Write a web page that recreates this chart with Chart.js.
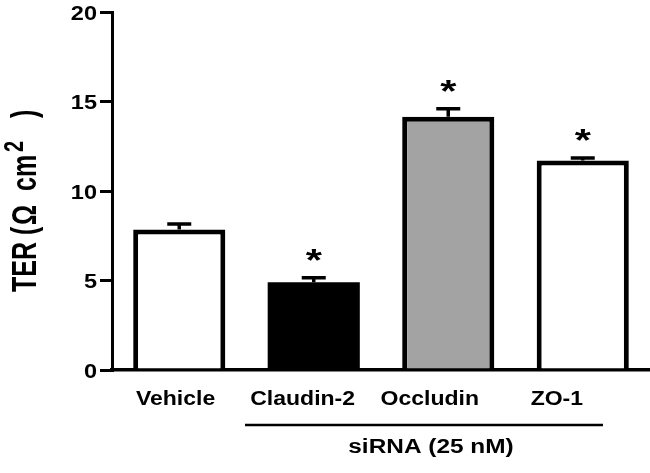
<!DOCTYPE html>
<html><head><meta charset="utf-8">
<script src="https://cdn.jsdelivr.net/npm/chart.js@4.4.1/dist/chart.umd.min.js"></script>
<style>html,body{margin:0;padding:0;background:#fff;} canvas{display:block;}</style>
</head><body>
<canvas id="c" width="650" height="473" style="width:650px;height:473px"></canvas>
<script>
// ---- data ----
const categories = ['Vehicle', 'Claudin-2', 'Occludin', 'ZO-1'];
const terMean = [7.85, 4.9, 14.15, 11.7];
const terSem = [0.3, 0.25, 0.45, 0.15];
const significant = [false, true, true, true];
const yTicks = [0, 5, 10, 15, 20];
const barColors = ['#ffffff', '#000000', '#a3a3a3', '#ffffff'];
const groupLabel = 'siRNA (25 nM)';
const yTitleParts = ['TER', '(', 'Ω', 'cm', '2', ')'];

// ---- drawing helpers ----
const FONT = '"Liberation Sans", Arial, Helvetica, sans-serif';
function stretchText(ctx, text, x, y, size, sx, align) {
  ctx.save();
  ctx.translate(x, y);
  ctx.scale(sx, 1);
  ctx.font = 'bold ' + size + 'px ' + FONT;
  ctx.textAlign = align;
  ctx.textBaseline = 'alphabetic';
  ctx.fillStyle = '#000';
  ctx.fillText(text, 0, 0);
  ctx.restore();
}

const decor = {
  id: 'decor',
  afterDraw(chart) {
    const ctx = chart.ctx, ys = chart.scales.y, ca = chart.chartArea;
    const meta = chart.getDatasetMeta(0);
    // error bars + asterisks
    ctx.save();
    ctx.strokeStyle = '#000';
    ctx.lineWidth = 3.5;
    meta.data.forEach((bar, i) => {
      const x = bar.x;
      const y0 = ys.getPixelForValue(terMean[i]);
      const y1 = ys.getPixelForValue(terMean[i] + terSem[i]);
      ctx.beginPath();
      ctx.moveTo(x, y0); ctx.lineTo(x, y1);
      ctx.moveTo(x - 12, y1); ctx.lineTo(x + 12, y1);
      ctx.stroke();
      if (significant[i]) stretchText(ctx, '*', x, y1 - 7, 32, 1.3, 'center');
    });
    ctx.restore();

    // y tick labels
    ys.ticks.forEach(t => {
      const y = ys.getPixelForValue(t.value);
      stretchText(ctx, String(t.value), 97, y + 7.5, 21, 1.12, 'right');
    });

    // x category labels
    meta.data.forEach((bar, i) => {
      const x = ca.left + (bar.x - ca.left) * 0.945;
      stretchText(ctx, categories[i], x, 405, 20, 1.15, 'center');
    });

    // group line + label
    ctx.save();
    ctx.strokeStyle = '#000';
    ctx.lineWidth = 2.5;
    ctx.beginPath();
    ctx.moveTo(245, 425); ctx.lineTo(603, 425);
    ctx.stroke();
    ctx.restore();
    stretchText(ctx, groupLabel, 431, 453, 20, 1.22, 'center');

    // y title (rotated)
    ctx.save();
    ctx.translate(36, 292);
    ctx.rotate(-Math.PI / 2);
    ctx.scale(1, 1.42);
    ctx.fillStyle = '#000';
    ctx.textBaseline = 'alphabetic';
    ctx.textAlign = 'left';
    ctx.font = 'bold 25px ' + FONT;
    ctx.fillText(yTitleParts[0], 0, 0);
    ctx.fillText(yTitleParts[1], 57, 0);
    ctx.fillText(yTitleParts[2], 67, 0);
    ctx.fillText(yTitleParts[3], 101, 0);
    ctx.fillText(yTitleParts[5], 174, 0);
    ctx.font = 'bold 20px ' + FONT;
    ctx.fillText(yTitleParts[4], 140, -9);
    ctx.restore();
  }
};

new Chart(document.getElementById('c'), {
  type: 'bar',
  data: {
    labels: categories,
    datasets: [{
      data: terMean,
      backgroundColor: barColors,
      borderColor: '#000',
      borderWidth: [5, 0, 5, 5],
      borderSkipped: 'start',
      categoryPercentage: 1,
      barPercentage: 0.685
    }]
  },
  options: {
    responsive: false,
    animation: false,
    devicePixelRatio: 1,
    layout: { padding: { top: 12, right: 0, left: 0, bottom: 0 } },
    plugins: { legend: { display: false }, tooltip: { enabled: false } },
    scales: {
      x: {
        grid: { display: false },
        border: { display: true, color: '#000', width: 3.5 },
        ticks: { display: false },
        afterFit(s) { s.height = 103; }
      },
      y: {
        min: 0, max: 20,
        afterBuildTicks(s) { s.ticks = yTicks.map(v => ({ value: v })); },
        grid: { display: true, drawOnChartArea: false, drawTicks: true, tickLength: 12, lineWidth: 3, color: '#000' },
        border: { display: true, color: '#000', width: 3 },
        ticks: { display: false },
        afterFit(s) { s.width = 112; }
      }
    }
  },
  plugins: [decor]
});
</script>
</body></html>
